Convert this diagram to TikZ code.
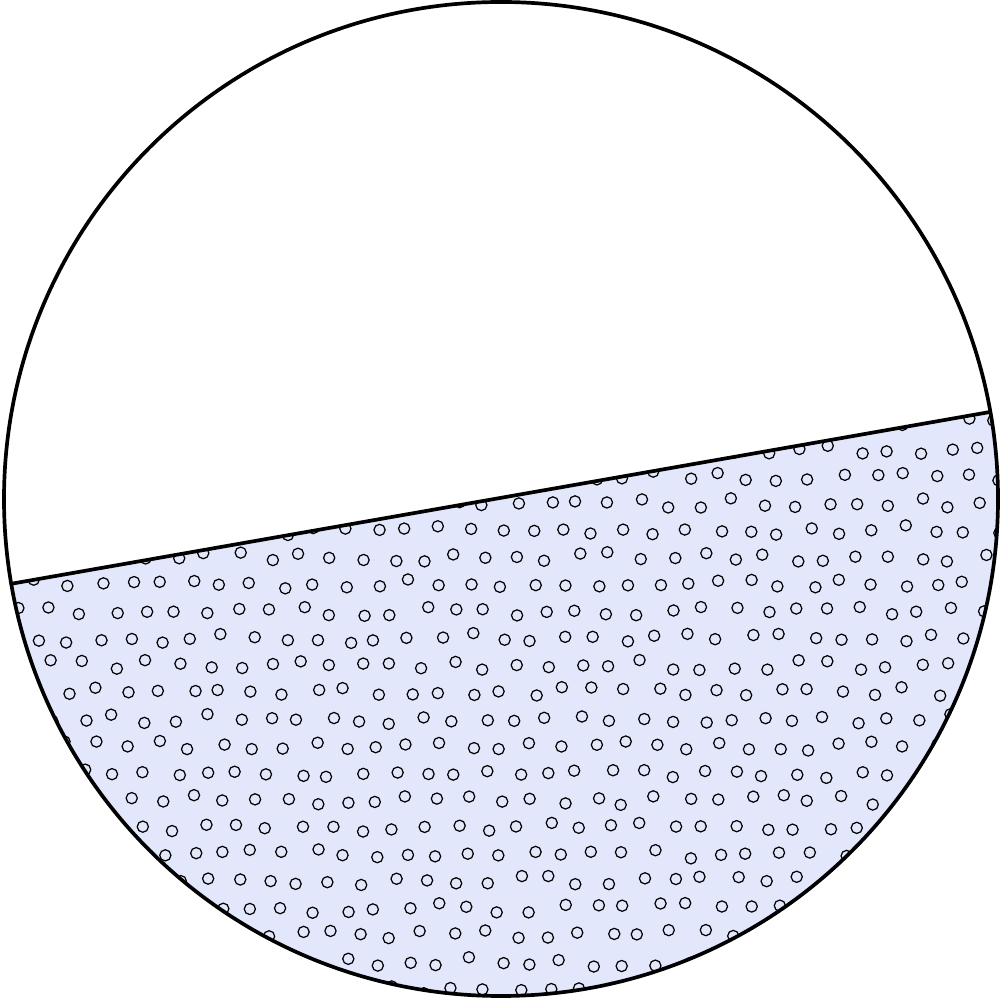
\documentclass[tikz,border=0pt]{standalone}
\usetikzlibrary{calc}
\definecolor{segfill}{RGB}{227,231,251}
\tikzset{
  outline/.style={line width=1.05pt, black},
  dot/.style={line width=0.35pt, black},
}
\begin{document}
\begin{tikzpicture}[x=0.01cm,y=-0.01cm]
\useasboundingbox (0,0) rectangle (1000,998);
\coordinate (C) at (501,499);
\coordinate (L) at (10,584);
\coordinate (R) at (990,412);
\begin{scope}
  \clip (C) circle[radius=497];
  \clip (L) -- (R) -- (1100,412) -- (1100,1100) -- (-100,1100) -- (-100,584) -- cycle;
  \fill[segfill] (-100,300) rectangle (1100,1100);
  \pgfmathsetseed{7}
  \foreach \j in {0,...,23}{
    \foreach \i in {0,...,33}{
      \pgfmathsetmacro{\px}{\i*31+mod(\j,2)*15.5-10+5*rand}
      \pgfmathsetmacro{\py}{395+\j*27+5*rand}
      \draw[dot] (\px,\py) circle[radius=5.6];
    }
  }
\end{scope}
\draw[outline] (C) circle[radius=497];
\draw[outline] (L) -- (R);
\end{tikzpicture}
\end{document}
